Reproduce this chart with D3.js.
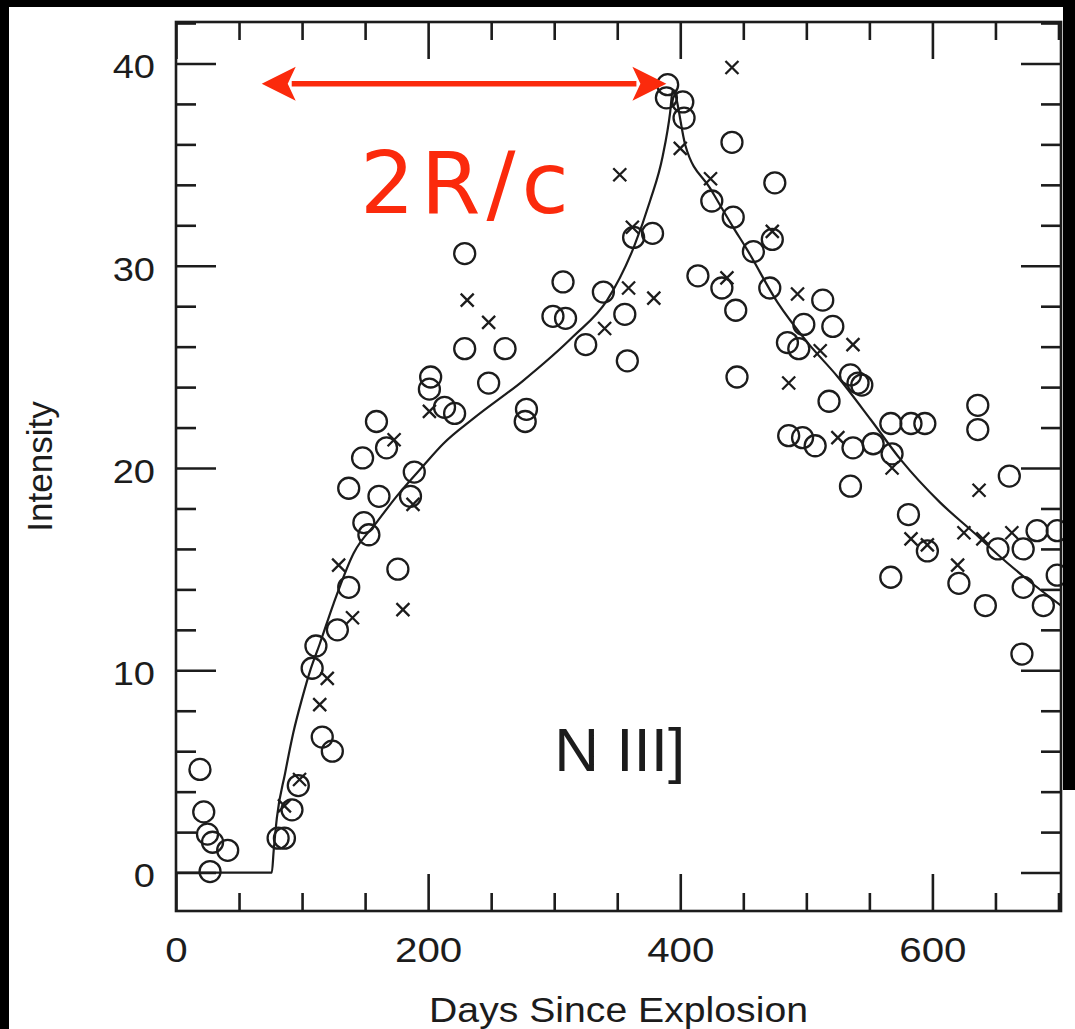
<!DOCTYPE html>
<html><head><meta charset="utf-8">
<script src="https://cdn.jsdelivr.net/npm/d3@7"></script>
<style>html,body{margin:0;padding:0;background:#fff;}svg{display:block;}</style>
</head><body>
<script>
// ---- data (days since explosion, intensity) ----
const circleDays = [19,22,25,29,41,27,81,86,92,97,108,111,116,124,128,137,137,148,149,153,159,161,167,176,186,189,202,201,213,221,229,229,248,261,278,277,299,309,307,325,339,356,358,363,378,390,389,402,403,414,425,433,441,442,444,445,458,471,473,475,485,486,494,497,498,507,513,518,521,535,535,537,541,544,553,567,583,594,568,567,581,596,621,636,636,642,652,661,671,672,672,683,688,699,699];
const circleVals = [5.1,3.0,1.9,1.5,1.1,0.05,1.7,1.7,3.1,4.3,10.1,11.2,6.7,6.0,12.0,14.1,19.0,20.5,17.3,16.7,22.3,18.6,21.0,15.0,18.6,19.8,24.5,23.9,23.0,22.7,30.6,25.9,24.2,25.9,22.9,22.3,27.5,27.4,29.2,26.1,28.7,27.6,25.3,31.4,31.6,38.95,38.3,38.1,37.3,29.5,33.2,28.9,36.1,32.4,27.8,24.5,30.7,28.9,31.3,34.1,26.2,21.6,25.9,21.5,27.1,21.1,28.3,23.3,27.0,24.6,19.1,21.0,24.2,24.1,21.2,22.2,22.2,22.2,20.7,14.6,17.7,15.9,14.3,23.1,21.9,13.2,16.0,19.6,10.8,16.0,14.1,16.9,13.2,16.9,14.7];
const crossDays = [86,98,114,120,129,140,173,180,188,201,231,248,340,352,359,362,379,400,424,437,441,473,486,493,511,525,537,568,583,596,620,625,637,640,663];
const crossVals = [3.3,4.6,8.3,9.6,15.2,12.6,21.4,13.0,18.2,22.8,28.3,27.2,26.9,34.5,28.9,31.9,28.4,35.8,34.3,29.4,39.8,31.7,24.2,28.6,25.8,21.5,26.1,20.0,16.5,16.2,15.2,16.8,18.9,16.5,16.8];
const modelDays = [0,76,77.5,80,86.5,93,100,106,114,125,141,159,175,196,212,237,275,315,342,363,376,386,392,394,404,424,442,453,477,501,525,551,575,606,633,654,675,702];
const modelVals = [0,0,1.1,2.7,4.9,6.9,8.6,9.9,11.3,13.3,15.8,17.3,18.6,20.1,21.2,22.5,24.3,26.5,28.3,30.9,33.2,35.4,37.6,38.7,35.96,33.8,31.9,30.8,28.2,26.2,24.5,22.4,20.4,18.3,16.8,15.6,14.5,13.2];
const xMajorTicks = [0,200,400,600];
const xMinorTicks = [50,100,150,250,300,350,450,500,550,650,700];
const yMajorTicks = [0,10,20,30,40];
const yMinorTicks = [2,4,6,8,12,14,16,18,22,24,26,28,32,34,36,38,42];
const arrowDays = [68,389];
const arrowVal = 39.0;
const xTitle = "Days Since Explosion";
const yTitle = "Intensity";
const lineLabel = "N III]";
const annotLabel = "2R/c";

// ---- layout ----
const W = 1075, H = 1029;
const L = 176, R = 1061, T = 22, B = 911;
const ink = "#1c1c1c", red = "#fb2a0c";
const FONT = "'Liberation Sans', Arial, Helvetica, sans-serif";
const SX = 1.12;

const svg = d3.select("body").append("svg").attr("width", W).attr("height", H);
svg.append("rect").attr("width", W).attr("height", H).attr("fill", "#fff");

const x = d3.scaleLinear().domain([0, 702]).range([L, R]);
const y = d3.scaleLinear().domain([-1.9, 42.05]).range([B, T]);

function styleAxis(g) {
  g.select(".domain").remove();
  g.selectAll("line").attr("stroke", ink).attr("stroke-width", 2.6);
}

// bottom axis
const gb = svg.append("g").attr("transform", `translate(0,${B})`);
gb.append("g").call(d3.axisBottom(x).tickValues(xMinorTicks).tickSize(-18).tickFormat("")).call(styleAxis);
const gbM = gb.append("g").call(d3.axisBottom(x).tickValues(xMajorTicks).tickSize(-37).tickPadding(25).tickFormat(d3.format("d"))).call(styleAxis);
gbM.selectAll("text").attr("font-family", FONT).attr("font-size", 36).attr("fill", ink).attr("transform", `scale(${SX},1)`);

// top axis
const gt = svg.append("g").attr("transform", `translate(0,${T})`);
gt.append("g").call(d3.axisTop(x).tickValues(xMinorTicks).tickSize(-18).tickFormat("")).call(styleAxis);
gt.append("g").call(d3.axisTop(x).tickValues(xMajorTicks).tickSize(-37).tickFormat("")).call(styleAxis);

// left axis
const gl = svg.append("g").attr("transform", `translate(${L},0)`);
gl.append("g").call(d3.axisLeft(y).tickValues(yMinorTicks).tickSize(-20).tickFormat("")).call(styleAxis);
const glM = gl.append("g").call(d3.axisLeft(y).tickValues(yMajorTicks).tickSize(-40).tickPadding(21).tickFormat(d3.format("d"))).call(styleAxis);
glM.selectAll("text").attr("font-family", FONT).attr("font-size", 34).attr("fill", ink)
  .attr("x", -21 / SX).attr("dy", "0.42em").attr("transform", `scale(${SX},1)`);

// right axis
const gr = svg.append("g").attr("transform", `translate(${R},0)`);
gr.append("g").call(d3.axisRight(y).tickValues(yMinorTicks).tickSize(-20).tickFormat("")).call(styleAxis);
gr.append("g").call(d3.axisRight(y).tickValues(yMajorTicks).tickSize(-40).tickFormat("")).call(styleAxis);

// frame
svg.append("rect").attr("x", L).attr("y", T).attr("width", R - L).attr("height", B - T)
  .attr("fill", "none").attr("stroke", ink).attr("stroke-width", 2.6);

// model curve
const model = modelDays.map((d, i) => [d, modelVals[i]]);
svg.append("path").datum(model)
  .attr("d", d3.line().x(d => x(d[0])).y(d => y(d[1])).curve(d3.curveMonotoneX))
  .attr("fill", "none").attr("stroke", ink).attr("stroke-width", 2.2);

// circles
const circles = circleDays.map((d, i) => [d, circleVals[i]]);
svg.append("g").selectAll("circle").data(circles).join("circle")
  .attr("cx", d => x(d[0])).attr("cy", d => y(d[1])).attr("r", 10.5)
  .attr("fill", "none").attr("stroke", ink).attr("stroke-width", 2.3);

// crosses
const crosses = crossDays.map((d, i) => [d, crossVals[i]]);
const s = 6.5;
svg.append("g").selectAll("path").data(crosses).join("path")
  .attr("d", d => { const cx = x(d[0]), cy = y(d[1]);
    return `M${cx - s},${cy - s}L${cx + s},${cy + s}M${cx - s},${cy + s}L${cx + s},${cy - s}`; })
  .attr("fill", "none").attr("stroke", ink).attr("stroke-width", 2.3);

// N III] label
svg.append("text").attr("x", x(300)).attr("y", y(5)).attr("font-family", FONT)
  .attr("font-size", 62).attr("fill", ink).text(lineLabel);

// axis titles
svg.append("text").attr("transform", `translate(${(L + R) / 2},1022) scale(${SX},1)`)
  .attr("text-anchor", "middle").attr("font-family", FONT).attr("font-size", 35).attr("fill", ink).text(xTitle);
svg.append("text").attr("transform", `translate(52,${(T + B) / 2}) rotate(-90)`)
  .attr("text-anchor", "middle").attr("font-family", FONT).attr("font-size", 35).attr("fill", ink).text(yTitle);

// red arrow annotation
const ay = y(arrowVal), ax1 = x(arrowDays[0]), ax2 = x(arrowDays[1]);
const hl = 34, hw = 17;
svg.append("line").attr("x1", ax1 + hl - 4).attr("x2", ax2 - hl + 4).attr("y1", ay).attr("y2", ay)
  .attr("stroke", red).attr("stroke-width", 5.5);
svg.append("path").attr("d", `M${ax1},${ay}L${ax1 + hl},${ay - hw}L${ax1 + hl - 8},${ay}L${ax1 + hl},${ay + hw}Z`).attr("fill", red);
svg.append("path").attr("d", `M${ax2},${ay}L${ax2 - hl},${ay - hw}L${ax2 - hl + 8},${ay}L${ax2 - hl},${ay + hw}Z`).attr("fill", red);
svg.append("text").attr("x", 360).attr("y", 213).attr("font-family", "'DejaVu Sans', sans-serif")
  .attr("font-size", 86).attr("letter-spacing", 6).attr("fill", red).text(annotLabel);

// scan border (black edges)
svg.append("rect").attr("x", 0).attr("y", 0).attr("width", W).attr("height", 7).attr("fill", "#000");
svg.append("rect").attr("x", 0).attr("y", 0).attr("width", 9).attr("height", H).attr("fill", "#000");
svg.append("rect").attr("x", 1063).attr("y", 0).attr("width", W - 1063).attr("height", 790).attr("fill", "#000");
</script>
</body></html>
